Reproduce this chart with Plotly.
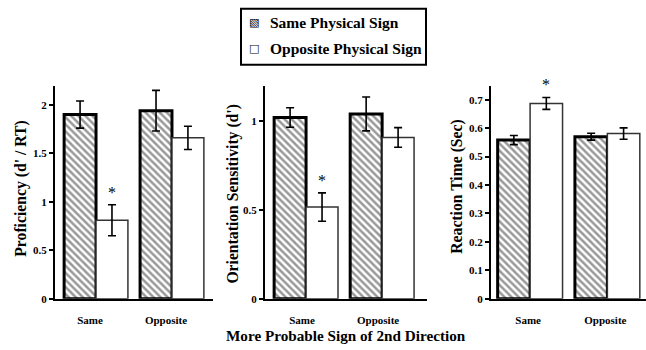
import plotly.graph_objects as go

# Conditions on the x axis
categories = ["Same", "Opposite"]
series_names = ["Same Physical Sign", "Opposite Physical Sign"]
series_glyphs = ["\u25A7", "\u25A1"]

# Panel 1: proficiency (d' / RT)
prof_same_sign = [1.90, 1.94]
prof_same_err = [0.14, 0.21]
prof_opp_sign = [0.81, 1.66]
prof_opp_err = [0.16, 0.12]

# Panel 2: orientation sensitivity (d')
sens_same_sign = [1.02, 1.04]
sens_same_err = [0.055, 0.095]
sens_opp_sign = [0.516, 0.908]
sens_opp_err = [0.08, 0.055]

# Panel 3: reaction time (sec)
rt_same_sign = [0.558, 0.570]
rt_same_err = [0.016, 0.012]
rt_opp_sign = [0.687, 0.581]
rt_opp_err = [0.021, 0.020]

y_titles = ["Proficiency (d' / RT)", "Orientation Sensitivity (d')", "Reaction Time (Sec)"]
x_title = "More Probable Sign of 2nd Direction"

W, H = 646, 350
FONT = "Liberation Serif, serif"
BARGAP = 0.16

panels = [
    dict(same=prof_same_sign, same_err=prof_same_err, opp=prof_opp_sign, opp_err=prof_opp_err,
         xdom=(55, 213), xr=[-0.54, 1.54], yr=[0, 2.2], tickvals=[0, 0.5, 1, 1.5, 2],
         ticktext=["0", "0.5", "1", "1.5", "2"], title_x=21, title_y=192, lblshift=-6),
    dict(same=sens_same_sign, same_err=sens_same_err, opp=sens_opp_sign, opp_err=sens_opp_err,
         xdom=(265, 427), xr=[-0.54, 1.59], yr=[0, 1.2], tickvals=[0, 0.5, 1],
         ticktext=["0", "0.5", "1"], title_x=233, title_y=197, lblshift=-4),
    dict(same=rt_same_sign, same_err=rt_same_err, opp=rt_opp_sign, opp_err=rt_opp_err,
         xdom=(491, 646), xr=[-0.506, 1.5], yr=[0, 0.75],
         tickvals=[0, 0.1, 0.2, 0.3, 0.4, 0.5, 0.6, 0.7],
         ticktext=["0", "0.1", "0.2", "0.3", "0.4", "0.5", "0.6", "0.7"],
         title_x=457, title_y=190, lblshift=-2),
]

Y_BOTTOM, Y_TOP = 304, 87

fig = go.Figure()
annotations = []
shapes = []
layout_axes = {}

for i, p in enumerate(panels):
    n = "" if i == 0 else str(i + 1)
    xa, ya = "x" + n, "y" + n
    fig.add_trace(go.Bar(
        x=categories, y=p["same"], name=series_names[0], xaxis=xa, yaxis=ya,
        showlegend=False,
        marker=dict(color="white",
                    pattern=dict(shape="\\", fgcolor="#333333", bgcolor="white",
                                 size=5, solidity=0.5, fillmode="overlay"),
                    line=dict(color="black", width=3)),
        error_y=dict(type="data", array=p["same_err"], color="black", thickness=1.6, width=4),
    ))
    fig.add_trace(go.Bar(
        x=categories, y=p["opp"], name=series_names[1], xaxis=xa, yaxis=ya,
        showlegend=False,
        marker=dict(color="white", line=dict(color="#333333", width=1.5)),
        error_y=dict(type="data", array=p["opp_err"], color="black", thickness=1.6, width=4),
    ))

    axis_line = dict(showline=True, linecolor="black", linewidth=2, showgrid=False,
                     zeroline=False, mirror=False)
    layout_axes["xaxis" + n] = dict(
        domain=[p["xdom"][0] / W, p["xdom"][1] / W], range=p["xr"], anchor=ya,
        type="category", ticks="", ticklabelstandoff=10, ticklabelshift=p["lblshift"],
        tickfont=dict(family=FONT, size=11, color="black", weight="bold"),
        fixedrange=True, **axis_line)
    layout_axes["yaxis" + n] = dict(
        domain=[1 - Y_BOTTOM / H, 1 - Y_TOP / H], range=p["yr"], anchor=xa,
        tickvals=p["tickvals"], ticktext=p["ticktext"], ticks="outside", ticklen=4,
        tickwidth=1.5, tickcolor="black",
        tickfont=dict(family=FONT, size=11, color="black", weight="bold"),
        fixedrange=True, **axis_line)

    # vertical axis title
    annotations.append(dict(
        text=y_titles[i], textangle=-90, xref="paper", yref="paper",
        x=p["title_x"] / W, y=1 - p["title_y"] / H,
        xanchor="center", yanchor="middle",
        showarrow=False, font=dict(family=FONT, size=15.7, color="black", weight="bold")))

    # significance marker above the "Same" opposite-sign bar
    annotations.append(dict(
        text="*", xref=xa, yref=ya, x=(1 - BARGAP) / 4,
        y=p["opp"][0] + p["opp_err"][0], yanchor="bottom", yshift=2,
        showarrow=False, font=dict(family=FONT, size=16, color="#000000")))

annotations.append(dict(
    text=x_title, xref="paper", yref="paper", x=346 / W, y=1 - 341 / H,
    xanchor="center", yanchor="middle",
    showarrow=False, font=dict(family=FONT, size=15.2, color="black", weight="bold")))

# legend: framed box with a glyph swatch and label per series
shapes.append(dict(type="rect", xref="paper", yref="paper",
                   x0=241 / W, x1=426 / W, y0=1 - 66 / H, y1=1 - 9 / H,
                   line=dict(color="black", width=2), fillcolor="white", layer="above"))
for k, (name, glyph) in enumerate(zip(series_names, series_glyphs)):
    row_y = [23, 49][k]
    annotations.append(dict(
        text=glyph, xref="paper", yref="paper", x=254 / W, y=1 - row_y / H,
        xanchor="center", yanchor="middle", showarrow=False,
        font=dict(family="DejaVu Sans", size=11, color="black")))
    annotations.append(dict(
        text=name, xref="paper", yref="paper", x=268 / W, y=1 - row_y / H,
        xanchor="left", yanchor="middle", showarrow=False,
        font=dict(family=FONT, size=15.5, color="black", weight="bold")))

fig.update_layout(
    width=W, height=H, margin=dict(l=0, r=0, t=0, b=0),
    paper_bgcolor="white", plot_bgcolor="white",
    barmode="group", bargap=BARGAP, bargroupgap=0,
    showlegend=False,
    annotations=annotations,
    shapes=shapes,
    **layout_axes,
)

fig.write_html("out.html")
